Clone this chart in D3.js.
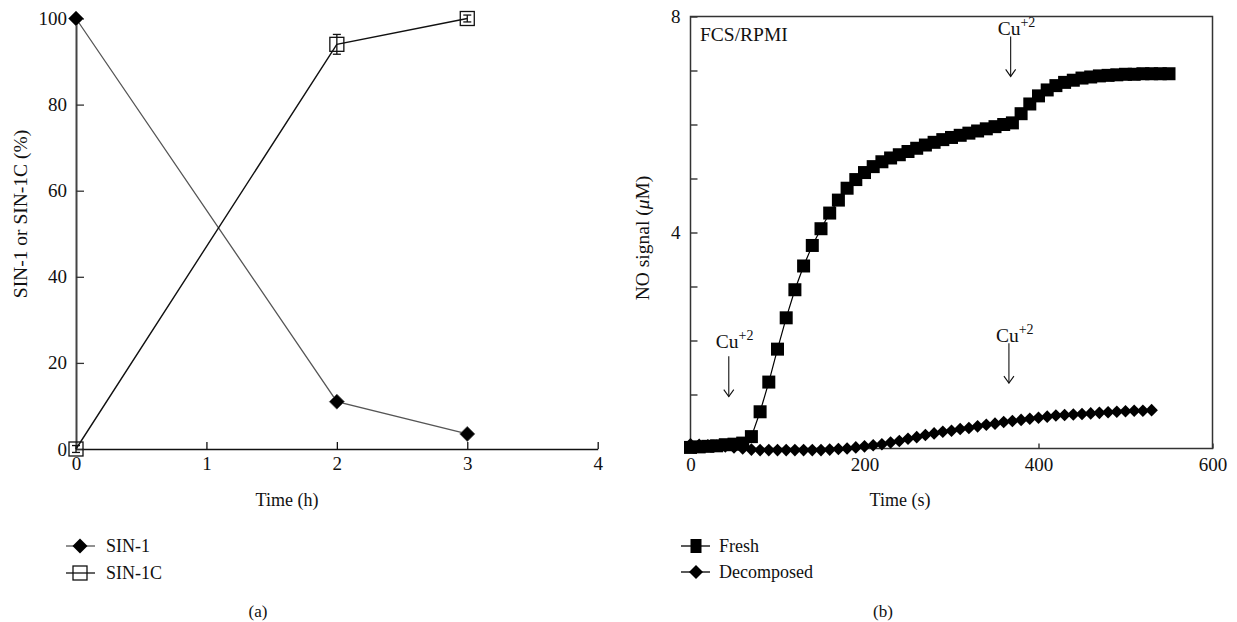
<!DOCTYPE html>
<html>
<head>
<meta charset="utf-8">
<script src="https://cdn.jsdelivr.net/npm/d3@7"></script>
<style>
  body { margin: 0; background: #fff; }
  text { font-family: "Liberation Serif", "DejaVu Serif", serif; fill: #111; }
</style>
</head>
<body>
<div id="chart"></div>
<script>
// panel (a): SIN-1 / SIN-1C over time (h)
var timeA = [0, 2, 3];
var sin1 = [100, 11, 3.5];
var sin1c = [0, 94, 100];
var sin1cErr = [0.8, 2.3, 0.8];
var ticksA_x = [0, 1, 2, 3, 4];
var ticksA_y = [0, 20, 40, 60, 80, 100];

// panel (b): NO signal (uM) over time (s)
var freshT = [0, 10, 20, 30, 40, 50, 60, 70, 80, 90, 100, 110, 120, 130, 140, 150, 160, 170, 180, 190,
  200, 210, 220, 230, 240, 250, 260, 270, 280, 290, 300, 310, 320, 330, 340, 350, 360, 370, 380, 390,
  400, 410, 420, 430, 440, 450, 460, 470, 480, 490, 500, 510, 520, 530, 540, 550];
var freshV = [0.02, 0.03, 0.04, 0.05, 0.07, 0.08, 0.10, 0.22, 0.68, 1.23, 1.84, 2.42, 2.94, 3.38, 3.76, 4.07, 4.36, 4.60, 4.82, 4.98,
  5.11, 5.22, 5.31, 5.38, 5.44, 5.50, 5.56, 5.62, 5.67, 5.72, 5.76, 5.80, 5.84, 5.88, 5.92, 5.96, 6.00, 6.03, 6.20, 6.38,
  6.53, 6.64, 6.72, 6.78, 6.82, 6.86, 6.88, 6.90, 6.91, 6.92, 6.93, 6.93, 6.94, 6.94, 6.94, 6.94];
var decT = [0, 10, 20, 30, 40, 50, 60, 70, 80, 90, 100, 110, 120, 130, 140, 150, 160, 170, 180, 190,
  200, 210, 220, 230, 240, 250, 260, 270, 280, 290, 300, 310, 320, 330, 340, 350, 360, 370, 380, 390,
  400, 410, 420, 430, 440, 450, 460, 470, 480, 490, 500, 510, 520, 530];
var decV = [0.08, 0.07, 0.06, 0.05, 0.04, 0.02, 0.00, -0.02, -0.03, -0.03, -0.03, -0.03, -0.03, -0.03, -0.03, -0.03, -0.02, -0.01, 0.00, 0.02,
  0.04, 0.06, 0.08, 0.11, 0.14, 0.18, 0.21, 0.25, 0.28, 0.31, 0.33, 0.36, 0.38, 0.41, 0.44, 0.46, 0.49, 0.51, 0.53, 0.55,
  0.57, 0.59, 0.61, 0.62, 0.63, 0.64, 0.65, 0.66, 0.67, 0.68, 0.69, 0.70, 0.70, 0.71];
var ticksB_x = [0, 200, 400, 600];
var ticksB_y = [0, 1, 2, 3, 4, 5, 6, 7, 8];
var cuNotes = [
  {t: 44, top: 1.71, bottom: 0.96, label: 1.86},
  {t: 368, top: 7.63, bottom: 6.89, label: 7.66},
  {t: 366, top: 1.95, bottom: 1.21, label: 1.98}
];

var svg = d3.select("#chart").append("svg")
    .attr("width", 1237)
    .attr("height", 622);

// square turned 45 degrees
function diamond(r) {
  return `M0,${-r}L${r},0L0,${r}L${-r},0Z`;
}

// ---------- panel (a) ----------
var xA = d3.scaleLinear().domain([0, 4]).range([76, 597.7]);
var yA = d3.scaleLinear().domain([0, 100]).range([449, 18.5]);

var gA = svg.append("g");

var axA_x = gA.append("g")
    .attr("transform", `translate(0, ${yA(0)})`)
    .call(d3.axisBottom(xA).tickValues(ticksA_x).tickSizeInner(-7).tickSizeOuter(0).tickPadding(8).tickFormat(d3.format("d")));
axA_x.select(".domain").attr("stroke", "#111").attr("stroke-width", 1.5);
axA_x.selectAll(".tick line").attr("stroke", "#111").attr("stroke-width", 1.3);
axA_x.selectAll(".tick text").style("font-size", "19px");

var axA_y = gA.append("g")
    .attr("transform", `translate(${xA(0)}, 0)`)
    .call(d3.axisLeft(yA).tickValues(ticksA_y).tickSizeInner(-8).tickSizeOuter(0).tickPadding(9));
axA_y.select(".domain").attr("stroke", "#444").attr("stroke-width", 2);
axA_y.selectAll(".tick line").attr("stroke", "#333").attr("stroke-width", 1.3);
axA_y.selectAll(".tick text").style("font-size", "19px");

var lineA = d3.line().x(d => xA(d[0])).y(d => yA(d[1]));

gA.append("path")
    .datum(timeA.map((t, i) => [t, sin1[i]]))
    .attr("d", lineA)
    .attr("fill", "none")
    .attr("stroke", "#555")
    .attr("stroke-width", 1.3);

gA.append("path")
    .datum(timeA.map((t, i) => [t, sin1c[i]]))
    .attr("d", lineA)
    .attr("fill", "none")
    .attr("stroke", "#111")
    .attr("stroke-width", 1.4);

// error bars for SIN-1C
timeA.forEach(function(t, i) {
  var x = xA(t), y0 = yA(sin1c[i] - sin1cErr[i]), y1 = yA(sin1c[i] + sin1cErr[i]);
  gA.append("line").attr("x1", x).attr("x2", x).attr("y1", y0).attr("y2", y1).attr("stroke", "#111").attr("stroke-width", 1.3);
  [y0, y1].forEach(function(yy) {
    gA.append("line").attr("x1", x - 4).attr("x2", x + 4).attr("y1", yy).attr("y2", yy).attr("stroke", "#111").attr("stroke-width", 1.3);
  });
});

gA.selectAll("rect.sin1c")
    .data(timeA.map((t, i) => [t, sin1c[i]]))
    .enter().append("rect")
    .attr("x", d => xA(d[0]) - 7)
    .attr("y", d => yA(d[1]) - 7)
    .attr("width", 14)
    .attr("height", 14)
    .attr("fill", "none")
    .attr("stroke", "#111")
    .attr("stroke-width", 1.3);

gA.selectAll("path.sin1")
    .data(timeA.map((t, i) => [t, sin1[i]]))
    .enter().append("path")
    .attr("d", diamond(7.5))
    .attr("transform", d => `translate(${xA(d[0])}, ${yA(d[1])})`)
    .attr("fill", "#000")
    .attr("stroke", "#555")
    .attr("stroke-width", 0.8);

gA.append("text")
    .attr("x", 287).attr("y", 506)
    .attr("text-anchor", "middle")
    .style("font-size", "18px")
    .text("Time (h)");

gA.append("text")
    .attr("transform", "translate(27, 214) rotate(-90)")
    .attr("text-anchor", "middle")
    .style("font-size", "19.5px")
    .text("SIN-1 or SIN-1C (%)");

// legend (a)
gA.append("line").attr("x1", 66).attr("x2", 95).attr("y1", 546).attr("y2", 546).attr("stroke", "#555").attr("stroke-width", 1.3);
gA.append("path").attr("d", diamond(7.5)).attr("transform", "translate(80, 546)").attr("fill", "#000");
gA.append("text").attr("x", 106).attr("y", 552).style("font-size", "18px").text("SIN-1");
gA.append("line").attr("x1", 66).attr("x2", 95).attr("y1", 573).attr("y2", 573).attr("stroke", "#111").attr("stroke-width", 1.3);
gA.append("rect").attr("x", 73).attr("y", 566).attr("width", 14).attr("height", 14).attr("fill", "none").attr("stroke", "#111").attr("stroke-width", 1.3);
gA.append("text").attr("x", 106).attr("y", 579).style("font-size", "18px").text("SIN-1C");

gA.append("text").attr("x", 258).attr("y", 617).attr("text-anchor", "middle").style("font-size", "17px").text("(a)");

// ---------- panel (b) ----------
var xB = d3.scaleLinear().domain([0, 600]).range([690.5, 1212.5]);
var yB = d3.scaleLinear().domain([0, 8]).range([448.5, 16.5]);

var gB = svg.append("g");

var axB_x = gB.append("g")
    .attr("transform", `translate(0, ${yB(0)})`)
    .call(d3.axisBottom(xB).tickValues(ticksB_x).tickSizeInner(-5).tickSizeOuter(0).tickPadding(9).tickFormat(d3.format("d")));
axB_x.select(".domain").remove();
axB_x.selectAll(".tick line").attr("stroke", "#222").attr("stroke-width", 1.3);
axB_x.selectAll(".tick text").style("font-size", "19px");

var axB_y = gB.append("g")
    .attr("transform", `translate(${xB(0)}, 0)`)
    .call(d3.axisLeft(yB).tickValues(ticksB_y).tickSizeInner(-7).tickSizeOuter(0).tickPadding(10)
      .tickFormat(d => (d === 4 || d === 8) ? d : ""));
axB_y.select(".domain").remove();
axB_y.selectAll(".tick line").attr("stroke", "#222").attr("stroke-width", 1.3);
axB_y.selectAll(".tick text").style("font-size", "19px");

gB.append("rect")
    .attr("x", xB(0)).attr("y", yB(8))
    .attr("width", xB(600) - xB(0)).attr("height", yB(0) - yB(8))
    .attr("fill", "none")
    .attr("stroke", "#333")
    .attr("stroke-width", 1.5);

var lineB = d3.line().x(d => xB(d[0])).y(d => yB(d[1]));

var freshData = freshT.map((t, i) => [t, freshV[i]]);
var decData = decT.map((t, i) => [t, decV[i]]);

gB.append("path").datum(decData).attr("d", lineB).attr("fill", "none").attr("stroke", "#000").attr("stroke-width", 1.2);
gB.selectAll("path.dec")
    .data(decData)
    .enter().append("path")
    .attr("d", diamond(6.3))
    .attr("transform", d => `translate(${xB(d[0])}, ${yB(d[1])})`)
    .attr("fill", "#000");

gB.append("path").datum(freshData).attr("d", lineB).attr("fill", "none").attr("stroke", "#000").attr("stroke-width", 1.2);
gB.selectAll("rect.fresh")
    .data(freshData)
    .enter().append("rect")
    .attr("x", d => xB(d[0]) - 6.5)
    .attr("y", d => yB(d[1]) - 6.5)
    .attr("width", 13)
    .attr("height", 13)
    .attr("fill", "#000");

gB.append("text").attr("x", 700).attr("y", 41).style("font-size", "19.5px").text("FCS/RPMI");

// Cu+2 arrows
cuNotes.forEach(function(n) {
  var x = xB(n.t), yt = yB(n.top), yb = yB(n.bottom);
  gB.append("line").attr("x1", x).attr("x2", x).attr("y1", yt).attr("y2", yb).attr("stroke", "#111").attr("stroke-width", 1.1);
  gB.append("path")
      .attr("d", `M${x - 5},${yb - 7}L${x},${yb}L${x + 5},${yb - 7}`)
      .attr("fill", "none").attr("stroke", "#111").attr("stroke-width", 1.1);
  var t = gB.append("text").attr("x", x - 13).attr("y", yB(n.label)).style("font-size", "19.5px");
  t.append("tspan").text("Cu");
  t.append("tspan").attr("dy", -8).style("font-size", "14px").text("+2");
});

gB.append("text")
    .attr("x", 900).attr("y", 506)
    .attr("text-anchor", "middle")
    .style("font-size", "18px")
    .text("Time (s)");

var yl = gB.append("text")
    .attr("transform", "translate(649, 238) rotate(-90)")
    .attr("text-anchor", "middle")
    .style("font-size", "19.5px");
yl.append("tspan").text("NO signal (");
yl.append("tspan").style("font-style", "italic").text("\u03BC");
yl.append("tspan").text("M)");

// legend (b)
gB.append("line").attr("x1", 681).attr("x2", 710).attr("y1", 546).attr("y2", 546).attr("stroke", "#000").attr("stroke-width", 1.3);
gB.append("rect").attr("x", 690.5).attr("y", 539).attr("width", 11).attr("height", 14).attr("fill", "#000");
gB.append("text").attr("x", 719).attr("y", 552).style("font-size", "18px").text("Fresh");
gB.append("line").attr("x1", 681).attr("x2", 710).attr("y1", 572).attr("y2", 572).attr("stroke", "#000").attr("stroke-width", 1.3);
gB.append("path").attr("d", diamond(7)).attr("transform", "translate(696, 572)").attr("fill", "#000");
gB.append("text").attr("x", 719).attr("y", 578).style("font-size", "18px").text("Decomposed");

gB.append("text").attr("x", 883).attr("y", 617).attr("text-anchor", "middle").style("font-size", "17px").text("(b)");
</script>
</body>
</html>
